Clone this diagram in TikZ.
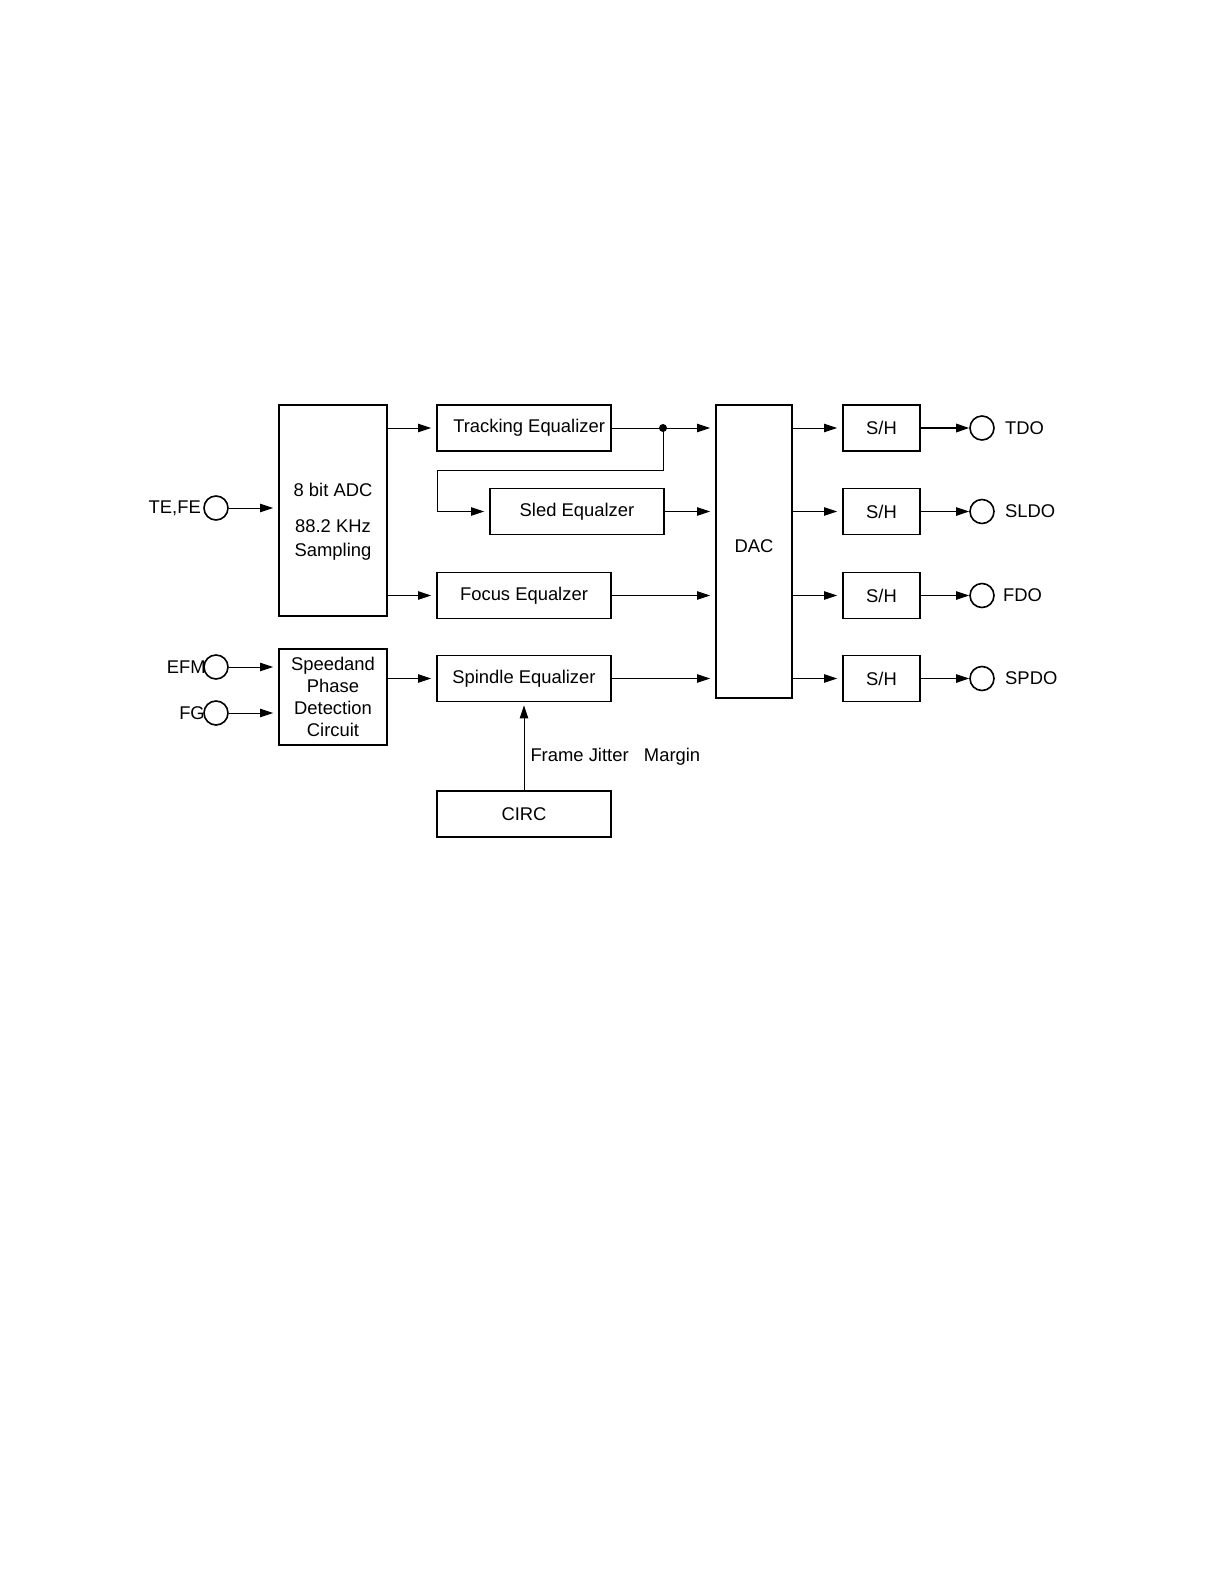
\documentclass[tikz,border=0pt]{standalone}
\usepackage{fontspec}
\setmainfont{Liberation Sans}
\usetikzlibrary{positioning,arrows.meta,calc}
\tikzset{
  block/.style={draw=black, line width=0.9pt, rectangle, inner sep=1pt, align=center,
    font=\fontsize{9.2}{11}\selectfont},
  eqbox/.style={block, minimum width=87pt, minimum height=23pt},
  shbox/.style={block, minimum width=38.5pt, minimum height=23pt},
  pin/.style={draw=black, line width=0.8pt, circle, minimum size=12pt, inner sep=0pt},
  sig/.style={line width=0.5pt, -{Triangle[length=6.5pt,width=4.2pt]}, shorten >=2.5pt},
  tag/.style={font=\fontsize{9.2}{11}\selectfont, inner sep=1pt}
}
\begin{document}
\begin{tikzpicture}[x=0.5pt, y=-0.5pt]
  \useasboundingbox (0,0) rectangle (1218,1586);
  % converters
  \node[block, minimum width=54pt, minimum height=105.5pt,
    label={[tag, align=center, yshift=-5.5pt]center:8 bit ADC\\[7pt]88.2 KHz\\[1pt]Sampling}]
    (adc) at (333,510.5) {};
  \node[block, minimum width=54pt, minimum height=48pt] (speed) at (333,697)
    {Speedand\\ Phase\\Detection\\Circuit};
  \node[block, minimum width=38pt, minimum height=146.5pt,
    label={[tag, yshift=2.5pt]center:DAC}] (dac) at (754,551.5) {};
  % equalizers
  \node[eqbox] (trk) at (524,428) {\ \ Tracking Equalizer};
  \node[eqbox] (sled) at (577,511.5) {Sled Equalzer};
  \node[eqbox] (foc) at (524,595.5) {Focus Equalzer};
  \node[eqbox] (spin) at (524,678.5) {Spindle Equalizer};
  \node[eqbox] (circ) at (524,814) {CIRC};
  % sample and hold
  \node[shbox] (sh1) at (881.5,428) {S/H};
  \node[shbox] (sh2) at (881.5,511.5) {S/H};
  \node[shbox] (sh3) at (881.5,595.5) {S/H};
  \node[shbox] (sh4) at (881.5,678.5) {S/H};
  % input pins
  \node[pin] (tefe) at (216,508) {};
  \node[pin] (efm) at (216,667) {};
  \node[pin] (fg) at (216,713) {};
  \node[tag, left=0pt of tefe] {TE,FE};
  \node[tag, left=-2.5pt of efm] {EFM};
  \node[tag, left=-2pt of fg] {FG};
  % output pins
  \node[pin] (tdo) at (982,428) {};
  \node[pin] (sldo) at (982,511.5) {};
  \node[pin] (fdo) at (982,595.5) {};
  \node[pin] (spdo) at (982,678.5) {};
  \node[tag, right=4pt of tdo] {TDO};
  \node[tag, right=4pt of sldo] {SLDO};
  \node[tag, right=3pt of fdo] {FDO};
  \node[tag, right=4pt of spdo] {SPDO};
  % connections
  \draw[sig] (tefe) -- (tefe -| adc.west);
  \draw[sig] (efm) -- (efm -| speed.west);
  \draw[sig] (fg) -- (fg -| speed.west);
  \draw[sig] (adc.east |- trk) -- (trk.west);
  \draw[sig] (adc.east |- foc) -- (foc.west);
  \draw[sig] (speed.east |- spin) -- (spin.west);
  \fill (663,428) circle (2pt) coordinate (dot);
  \coordinate (bend) at (437,470);
  \draw[line width=0.5pt] (trk.east) -- (dot);
  \draw[sig] (dot) -- (dot -| dac.west);
  \draw[sig] (dot) |- (bend) |- (sled.west);
  \draw[sig] (sled.east) -- (sled -| dac.west);
  \draw[sig] (foc.east) -- (foc -| dac.west);
  \draw[sig] (spin.east) -- (spin -| dac.west);
  \draw[sig, shorten >=1.5pt] (circ.north) -- (spin.south)
    node[tag, pos=0.38, right=2pt] {Frame Jitter\ \ \ Margin};
  \foreach \k in {1,2,3,4} {
    \draw[sig] (dac.east |- sh\k) -- (sh\k.west);
  }
  \draw[sig, line width=1pt, shorten >=0pt] (sh1.east) -- (tdo.west);
  \draw[sig, shorten >=0pt] (sh2.east) -- (sldo.west);
  \draw[sig, shorten >=0pt] (sh3.east) -- (fdo.west);
  \draw[sig, shorten >=0pt] (sh4.east) -- (spdo.west);
\end{tikzpicture}
\end{document}
